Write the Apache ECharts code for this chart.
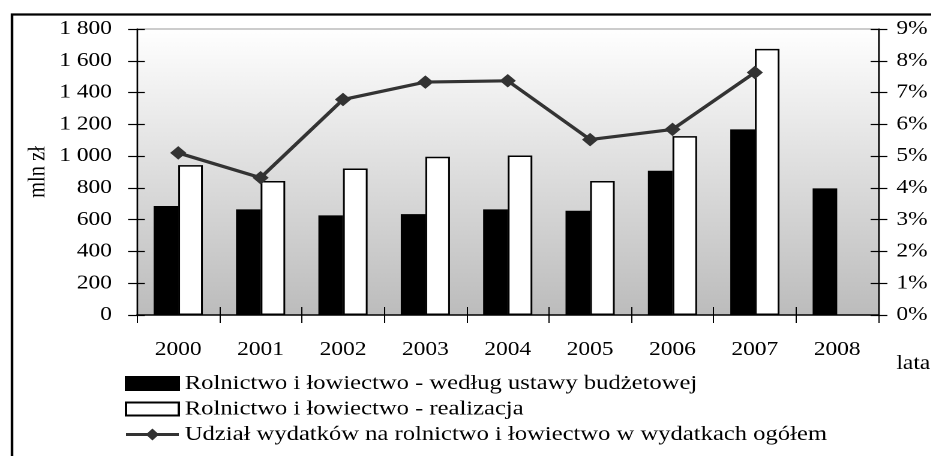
<!DOCTYPE html>
<html>
<head>
<meta charset="utf-8">
<script src="https://cdn.jsdelivr.net/npm/echarts@6/dist/echarts.min.js"></script>
<style>
html,body{margin:0;padding:0;background:#fff;overflow:hidden;}
#wrap{width:931px;height:456px;overflow:hidden;}
#chart{width:776px;height:456px;transform:scaleX(1.2);transform-origin:0 0;}
</style>
</head>
<body>
<div id="wrap"><div id="chart"></div></div>
<script>
const years = ['2000','2001','2002','2003','2004','2005','2006','2007','2008'];
const budgetAct = [686, 665, 627, 635, 665, 656, 908, 1168, 797];
const realization = [943, 843, 922, 996, 1004, 843, 1126, 1675, null];
const sharePct = [5.10, 4.32, 6.78, 7.33, 7.37, 5.52, 5.84, 7.63, null];
const seriesNames = [
  'Rolnictwo i łowiectwo - według ustawy budżetowej',
  'Rolnictwo i łowiectwo - realizacja',
  'Udział wydatków na rolnictwo i łowiectwo w wydatkach ogółem'
];
const yAxisName = 'mln zł';
const xAxisName = 'lata';

const FONT = '"Liberation Serif", serif';
const FS = 19.5;   // axis text
const LFS = 20.5;  // legend text

function fmtThousands(v){
  if (v >= 1000) return Math.floor(v/1000) + ' ' + String(v % 1000).padStart(3,'0');
  return String(v);
}

const chart = echarts.init(document.getElementById('chart'), null, {renderer:'canvas', devicePixelRatio:2});
chart.setOption({
  animation:false,
  textStyle:{fontFamily:FONT, color:'#000'},
  grid:{left:114.2, right:43.5, top:29, bottom:141, show:true, borderColor:'#999', borderWidth:1,
    backgroundColor: new echarts.graphic.LinearGradient(0,0,0,1,[
      {offset:0,color:'#ffffff'},{offset:1,color:'#bcbcbc'}])},
  legend:{
    orient:'vertical', left:104, top:373, padding:0, itemWidth:44, itemHeight:13, itemGap:4.5,
    textStyle:{fontFamily:FONT, fontSize:LFS, color:'#000'},
    data:[
      {name:seriesNames[0], icon:'rect'},
      {name:seriesNames[1], icon:'rect'},
      {name:seriesNames[2], icon:'path://M0,5 L44,5 L44,8 L0,8 Z M16.5,6.5 L22,0.5 L27.5,6.5 L22,12.5 Z',
        itemStyle:{color:'#333', borderWidth:0}}
    ]
  },
  xAxis:[{
    type:'category', data:years, position:'bottom',
    axisLine:{lineStyle:{color:'#000', width:1.5}},
    axisTick:{show:true, length:8, lineStyle:{color:'#000', width:1}},
    axisLabel:{fontFamily:FONT, fontSize:FS, color:'#000', margin:25}
  },{
    type:'category', data:years, position:'bottom',
    axisLine:{show:false},
    axisTick:{show:true, inside:true, length:8, lineStyle:{color:'#000', width:1}},
    axisLabel:{show:false}
  }],
  yAxis:[{
    type:'value', min:0, max:1800, interval:200, position:'left',
    name:yAxisName, nameLocation:'middle', nameGap:72, nameRotate:90, nameMoveOverlap:false,
    nameTextStyle:{fontFamily:FONT, fontSize:20.5, color:'#000'},
    axisLine:{show:true, lineStyle:{color:'#000', width:1.25}},
    axisTick:{show:true, length:7.5, lineStyle:{color:'#000', width:1.2}},
    splitLine:{show:false},
    axisLabel:{fontFamily:FONT, fontSize:FS, color:'#000', margin:21, padding:[7,0,0,0], formatter:fmtThousands}
  },{
    type:'value', min:0, max:9, interval:1, position:'right',
    axisLine:{show:true, lineStyle:{color:'#000', width:1.25}},
    axisTick:{show:true, length:7.5, lineStyle:{color:'#000', width:1.2}},
    splitLine:{show:false},
    axisLabel:{fontFamily:FONT, fontSize:FS, color:'#000', margin:15, padding:[7,0,0,0], formatter:'{value}%'}
  },{
    type:'value', min:0, max:1800, interval:200, position:'left',
    axisLine:{show:false}, splitLine:{show:false}, axisLabel:{show:false},
    axisTick:{show:true, inside:true, length:6.5, lineStyle:{color:'#000', width:1.2}}
  },{
    type:'value', min:0, max:9, interval:1, position:'right',
    axisLine:{show:false}, splitLine:{show:false}, axisLabel:{show:false},
    axisTick:{show:true, inside:true, length:6.5, lineStyle:{color:'#000', width:1.2}}
  }],
  series:[{
    name:seriesNames[0], type:'bar', data:budgetAct, barWidth:20.5, barGap:'0%',
    itemStyle:{color:'#000', borderColor:'#000', borderWidth:1}
  },{
    name:seriesNames[1], type:'bar', data:realization, barWidth:20.5,
    itemStyle:{color:'#fff', borderColor:'#000', borderWidth:1.5}
  },{
    name:seriesNames[2], type:'line', yAxisIndex:1, data:sharePct,
    symbol:'diamond', symbolSize:[13.5,13.5], z:5,
    lineStyle:{color:'#333', width:3.2},
    itemStyle:{color:'#333'}
  }],
  graphic:[{
    type:'rect', left:7.5, top:12, shape:{width:820, height:470}, z:100, silent:true,
    style:{fill:'none', stroke:'#000', lineWidth:2.2}
  },{
    type:'text', left:747, top:354, z:100,
    style:{text:xAxisName, font:FS+'px '+FONT, fill:'#000'}
  }]
});
</script>
</body>
</html>
